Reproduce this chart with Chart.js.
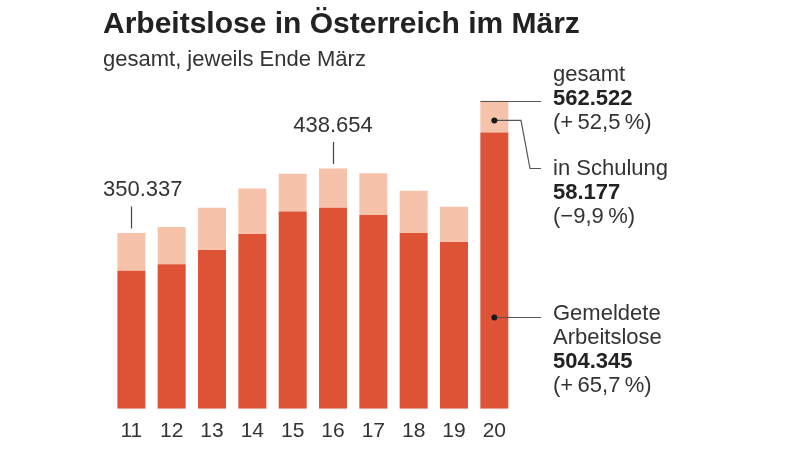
<!DOCTYPE html>
<html>
<head>
<meta charset="utf-8">
<script src="https://cdn.jsdelivr.net/npm/chart.js@4.4.1/dist/chart.umd.min.js"></script>
<style>
  html, body { margin: 0; padding: 0; background: #ffffff; }
  #wrap { width: 800px; height: 452px; position: relative; }
</style>
</head>
<body>
<div id="wrap"><canvas id="c" width="800" height="452"></canvas></div>
<script>
// ---- data ----
const years = ['11', '12', '13', '14', '15', '16', '17', '18', '19', '20'];
const unemployed = [252000, 264000, 290000, 319000, 360000, 367000, 354000, 321000, 304372, 504345];
const training = [69000, 68000, 77000, 83000, 69000, 71654, 76000, 77000, 64495, 58177];
const totalLabelIdx = [0, 5];
const totalLabelText = ['350.337', '438.654'];
const titleText = 'Arbeitslose in Österreich im März';
const subtitleText = 'gesamt, jeweils Ende März';
const noteTotal = ['gesamt', '562.522', '(+\u200952,5\u2009%)'];
const noteTraining = ['in Schulung', '58.177', '(\u22129,9\u2009%)'];
const noteUnemployed = ['Gemeldete', 'Arbeitslose', '504.345', '(+\u200965,7\u2009%)'];

const DARK = '#de5236';
const LIGHT = '#f6c2aa';
const TEXT = '#333333';
const FONT = '"Liberation Sans", Arial, Helvetica, sans-serif';

const overlay = {
  id: 'overlay',
  afterDatasetsDraw(chart) {
    const ctx = chart.ctx;
    const x = chart.scales.x;
    const dark = chart.getDatasetMeta(0).data;
    const light = chart.getDatasetMeta(1).data;
    ctx.save();
    // title & subtitle
    ctx.fillStyle = '#222';
    ctx.textAlign = 'left';
    ctx.textBaseline = 'alphabetic';
    ctx.font = 'bold 30px ' + FONT;
    ctx.fillText(titleText, 103, 33);
    ctx.fillStyle = TEXT;
    ctx.font = '22px ' + FONT;
    ctx.fillText(subtitleText, 103, 66);

    // category labels
    ctx.font = '21px ' + FONT;
    ctx.textAlign = 'center';
    years.forEach((y, i) => {
      ctx.fillText(y, x.getPixelForValue(i), 437);
    });

    // total labels with ticks
    ctx.strokeStyle = '#444';
    ctx.lineWidth = 1.2;
    ctx.font = '22px ' + FONT;
    totalLabelIdx.forEach((idx, k) => {
      const bar = light[idx];
      const cx = bar.x;
      const top = bar.y;
      const yEnd = top - 4.5;
      const yStart = yEnd - 22;
      ctx.beginPath();
      ctx.moveTo(Math.round(cx) + 0.5, yStart);
      ctx.lineTo(Math.round(cx) + 0.5, yEnd);
      ctx.stroke();
      ctx.textAlign = 'center';
      const w = ctx.measureText(totalLabelText[k]).width;
      let lx = cx;
      if (idx === 0) { lx = Math.max(cx, 103 + w / 2); }
      ctx.fillText(totalLabelText[k], lx, yStart - 10.5);
    });

    // annotations for the last bar
    const last = years.length - 1;
    const lb = light[last];
    const db = dark[last];
    const half = lb.width / 2;
    const noteX = 553;
    ctx.strokeStyle = '#555';
    ctx.lineWidth = 1.2;
    // gesamt leader
    ctx.beginPath();
    ctx.moveTo(lb.x - half, Math.round(lb.y) + 0.5);
    ctx.lineTo(541, Math.round(lb.y) + 0.5);
    ctx.stroke();
    // Schulung leader
    const dotY1 = lb.y + (db.y - lb.y) * 0.62;
    ctx.beginPath();
    ctx.moveTo(lb.x, dotY1);
    ctx.lineTo(521, dotY1);
    ctx.lineTo(530, 168.5);
    ctx.lineTo(541, 168.5);
    ctx.stroke();
    // Gemeldete leader
    const dotY2 = 317.5;
    ctx.beginPath();
    ctx.moveTo(db.x, dotY2);
    ctx.lineTo(541, dotY2);
    ctx.stroke();
    // dots
    ctx.fillStyle = '#1a1a1a';
    [[lb.x, dotY1], [db.x, dotY2]].forEach(p => {
      ctx.beginPath();
      ctx.arc(p[0], p[1], 3, 0, Math.PI * 2);
      ctx.fill();
    });

    ctx.textAlign = 'left';
    const drawNote = (lines, boldIdx, baseY) => {
      lines.forEach((t, i) => {
        ctx.font = (i === boldIdx ? 'bold ' : '') + '22px ' + FONT;
        ctx.fillStyle = i === boldIdx ? '#222' : TEXT;
        ctx.fillText(t, noteX, baseY + i * 24);
      });
    };
    drawNote(noteTotal, 1, 81);
    drawNote(noteTraining, 1, 175);
    drawNote(noteUnemployed, 2, 319.5);
    ctx.restore();
  }
};

new Chart(document.getElementById('c'), {
  type: 'bar',
  data: {
    labels: years,
    datasets: [
      { label: 'Gemeldete Arbeitslose', data: unemployed, backgroundColor: DARK, borderWidth: 0 },
      { label: 'in Schulung', data: training, backgroundColor: LIGHT, borderWidth: 0 }
    ]
  },
  options: {
    responsive: false,
    animation: false,
    devicePixelRatio: 1,
    layout: { padding: { left: 111.2, right: 285.5, top: 80.2, bottom: 43.3 } },
    datasets: { bar: { categoryPercentage: 1, barPercentage: 0.694 } },
    scales: {
      x: { stacked: true, display: false },
      y: { stacked: true, display: false, min: 0, max: 600000 }
    },
    plugins: {
      legend: { display: false },
      tooltip: { enabled: false },
      title: { display: false }
    }
  },
  plugins: [overlay]
});
</script>
</body>
</html>
